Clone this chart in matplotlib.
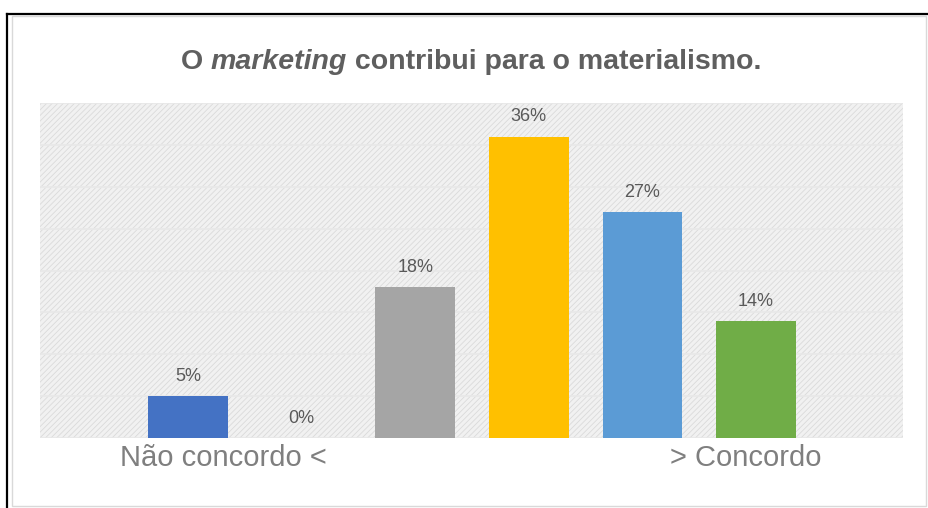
import matplotlib
matplotlib.use("Agg")
import matplotlib.pyplot as plt
from matplotlib.patches import Rectangle
from matplotlib.lines import Line2D

plt.rcParams['font.family'] = ['Liberation Sans', 'DejaVu Sans']
plt.rcParams['hatch.linewidth'] = 0.6

# Survey answers on a 6-point agreement scale
levels = [1, 2, 3, 4, 5, 6]
shares = [5, 0, 18, 36, 27, 14]
value_labels = ["5%", "0%", "18%", "36%", "27%", "14%"]
colors = ["#4472C4", "#A5A5A5", "#A5A5A5", "#FFC000", "#5B9BD5", "#70AD47"]
end_labels = ["Não concordo <", "> Concordo"]
title_parts = ["O ", "marketing", " contribui para o materialismo."]

W, H = 929, 508
fig = plt.figure(figsize=(W / 100, H / 100), dpi=100)
fig.patch.set_facecolor("white")

# page frame and chart-area border
fig.add_artist(Line2D([7.5 / W, 7.5 / W], [0, 1 - 14 / H], color="black", lw=1.6,
                      transform=fig.transFigure))
fig.add_artist(Line2D([7.5 / W, 1], [1 - 14 / H, 1 - 14 / H], color="black", lw=1.6,
                      transform=fig.transFigure))
fig.add_artist(Rectangle((12 / W, 2 / H), (926 - 12) / W, 490 / H, fill=False,
                         edgecolor="#d9d9d9", lw=1.0, transform=fig.transFigure))

ax = fig.add_axes([40 / W, (H - 438) / H, (903 - 40) / W, (438 - 103) / H])
ax.set_facecolor("#f1f1f1")
bg = Rectangle((0, 0), 1, 1, transform=ax.transAxes, facecolor="#f1f1f1",
               edgecolor="#dadada", hatch="//////", lw=0, zorder=0)
ax.add_patch(bg)

x = [l - 1 for l in levels]
ax.set_xlim(-1.303, 6.294)
ax.set_ylim(0, 40)
ax.set_yticks(range(0, 41, 5))
ax.yaxis.grid(True, color="#e8e8e8", lw=1.2, zorder=1)
ax.set_axisbelow(False)
ax.tick_params(left=False, bottom=False, labelleft=False, labelbottom=False)
for s in ax.spines.values():
    s.set_visible(False)

bars = ax.bar(x, shares, width=0.70, color=colors, zorder=3)
for rect, lab in zip(bars, value_labels):
    ax.annotate(lab, (rect.get_x() + rect.get_width() / 2, rect.get_height()),
                xytext=(0, 8), textcoords="offset points", ha="center", va="bottom",
                fontsize=13, color="#595959", zorder=4)

# scale end labels under the axis
fig.text(120 / W, 1 - 458 / H, end_labels[0], ha="left", va="center",
         fontsize=21, color="#7f7f7f")
fig.text(670 / W, 1 - 458 / H, end_labels[1], ha="left", va="center",
         fontsize=21, color="#7f7f7f")

# title with italic word, assembled piece by piece
fig.canvas.draw()
renderer = fig.canvas.get_renderer()
styles = ["normal", "italic", "normal"]
pieces = []
total = 0
for txt, st in zip(title_parts, styles):
    t = fig.text(0, 1 - 62 / H, txt, fontsize=20.5, fontweight="bold", fontstyle=st,
                 color="#5f5f5f", ha="left", va="center")
    w = t.get_window_extent(renderer).width
    pieces.append((t, w))
    total += w
xpix = 471 - total / 2
for t, w in pieces:
    t.set_x(xpix / W)
    xpix += w

fig.savefig("out.png", dpi=100, facecolor="white")
